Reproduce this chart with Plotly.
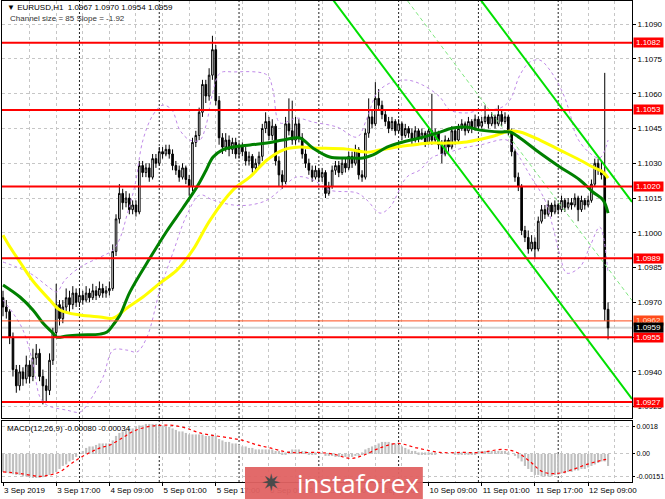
import plotly.graph_objects as go

# ---------------- data ----------------
bar_open = [1.0972,1.0968,1.0966,1.0955,1.0941,1.0934,1.0940,1.0937,1.0943,1.0938,
1.0946,1.0948,1.0938,1.0934,1.0932,1.0945,1.0957,1.0969,1.0963,1.0968,
1.0972,1.0969,1.0974,1.0970,1.0973,1.0971,1.0974,1.0972,1.0975,1.0973,
1.0976,1.0974,1.0975,1.0976,1.0992,1.1006,1.1017,1.1013,1.1015,1.1010,
1.1012,1.1009,1.1029,1.1026,1.1028,1.1024,1.1032,1.1030,1.1035,1.1034,
1.1036,1.1034,1.1029,1.1027,1.1024,1.1028,1.1023,1.1020,1.1039,1.1042,
1.1052,1.1064,1.1059,1.1068,1.1079,1.1057,1.1041,1.1037,1.1040,1.1036,
1.1039,1.1034,1.1037,1.1035,1.1031,1.1033,1.1028,1.1030,1.1033,1.1045,
1.1048,1.1042,1.1046,1.1031,1.1025,1.1022,1.1047,1.1044,1.1040,1.1047,
1.1041,1.1034,1.1030,1.1027,1.1024,1.1027,1.1024,1.1026,1.1017,1.1020,
1.1027,1.1029,1.1026,1.1030,1.1028,1.1033,1.1030,1.1036,1.1025,1.1024,
1.1043,1.1050,1.1047,1.1058,1.1055,1.1051,1.1048,1.1045,1.1048,1.1044,
1.1047,1.1042,1.1045,1.1043,1.1040,1.1044,1.1041,1.1043,1.1039,1.1044,
1.1040,1.1043,1.1038,1.1034,1.1040,1.1037,1.1044,1.1040,1.1045,1.1047,
1.1044,1.1048,1.1045,1.1049,1.1046,1.1048,1.1050,1.1047,1.1050,1.1047,
1.1051,1.1048,1.1050,1.1044,1.1035,1.1024,1.1020,1.1001,1.0998,1.0993,
1.0996,1.0993,1.1005,1.1010,1.1008,1.1012,1.1009,1.1012,1.1010,1.1014,
1.1011,1.1013,1.1012,1.1015,1.1010,1.1014,1.1012,1.1014,1.1021,1.1030,
1.1027,1.1025,1.0967]
bar_high = [1.0975,1.0971,1.0967,1.0957,1.0943,1.0943,1.0942,1.0947,1.0945,1.0950,
1.0952,1.0950,1.0941,1.0937,1.0948,1.0959,1.0978,1.0971,1.0971,1.0976,
1.0975,1.0977,1.0976,1.0976,1.0975,1.0977,1.0976,1.0978,1.0977,1.0979,
1.0978,1.0977,1.0979,1.0995,1.1008,1.1021,1.1019,1.1018,1.1017,1.1014,
1.1014,1.1031,1.1031,1.1030,1.1030,1.1034,1.1034,1.1037,1.1037,1.1038,
1.1038,1.1036,1.1031,1.1029,1.1030,1.1029,1.1025,1.1041,1.1044,1.1054,
1.1066,1.1066,1.1071,1.1085,1.1081,1.1059,1.1043,1.1043,1.1042,1.1041,
1.1041,1.1039,1.1039,1.1037,1.1035,1.1034,1.1032,1.1035,1.1047,1.1052,
1.1050,1.1049,1.1047,1.1033,1.1027,1.1050,1.1058,1.1057,1.1050,1.1049,
1.1043,1.1036,1.1032,1.1029,1.1029,1.1028,1.1028,1.1027,1.1022,1.1029,
1.1031,1.1031,1.1032,1.1032,1.1035,1.1035,1.1038,1.1037,1.1027,1.1045,
1.1058,1.1053,1.1065,1.1062,1.1057,1.1053,1.1050,1.1050,1.1049,1.1049,
1.1048,1.1047,1.1046,1.1045,1.1046,1.1045,1.1045,1.1044,1.1046,1.1060,
1.1045,1.1044,1.1040,1.1042,1.1041,1.1046,1.1045,1.1047,1.1049,1.1048,
1.1050,1.1049,1.1051,1.1050,1.1050,1.1055,1.1051,1.1052,1.1051,1.1055,
1.1053,1.1052,1.1051,1.1045,1.1036,1.1026,1.1021,1.1003,1.1001,1.0999,
1.0998,1.1007,1.1012,1.1012,1.1014,1.1013,1.1014,1.1013,1.1016,1.1015,
1.1015,1.1015,1.1017,1.1016,1.1016,1.1015,1.1016,1.1023,1.1032,1.1032,
1.1031,1.1069,1.0970]
bar_low = [1.0964,1.0963,1.0952,1.0938,1.0931,1.0932,1.0934,1.0935,1.0935,1.0936,
1.0943,1.0936,1.0926,1.0927,1.0930,1.0943,1.0955,1.0960,1.0961,1.0966,
1.0966,1.0967,1.0968,1.0968,1.0969,1.0970,1.0970,1.0971,1.0971,1.0972,
1.0972,1.0972,1.0973,1.0975,1.0990,1.1004,1.1010,1.1011,1.1008,1.1008,
1.1007,1.1008,1.1024,1.1024,1.1022,1.1023,1.1028,1.1029,1.1032,1.1033,
1.1032,1.1027,1.1025,1.1022,1.1023,1.1021,1.1016,1.1018,1.1037,1.1040,
1.1050,1.1056,1.1057,1.1066,1.1055,1.1038,1.1034,1.1035,1.1033,1.1034,
1.1032,1.1032,1.1033,1.1029,1.1029,1.1026,1.1026,1.1028,1.1031,1.1043,
1.1040,1.1040,1.1029,1.1020,1.1019,1.1021,1.1042,1.1038,1.1038,1.1039,
1.1032,1.1028,1.1025,1.1022,1.1023,1.1022,1.1022,1.1015,1.1016,1.1019,
1.1025,1.1024,1.1025,1.1026,1.1027,1.1028,1.1029,1.1023,1.1022,1.1023,
1.1041,1.1045,1.1046,1.1053,1.1049,1.1046,1.1043,1.1044,1.1042,1.1043,
1.1040,1.1041,1.1041,1.1038,1.1039,1.1039,1.1040,1.1037,1.1038,1.1038,
1.1039,1.1036,1.1030,1.1033,1.1035,1.1036,1.1038,1.1039,1.1044,1.1042,
1.1043,1.1043,1.1044,1.1044,1.1045,1.1047,1.1045,1.1046,1.1045,1.1046,
1.1046,1.1047,1.1042,1.1033,1.1022,1.1018,1.0999,1.0996,1.0991,1.0992,
1.0989,1.0992,1.1004,1.1006,1.1007,1.1007,1.1008,1.1008,1.1009,1.1009,
1.1010,1.1010,1.1011,1.1005,1.1009,1.1010,1.1011,1.1013,1.1020,1.1025,
1.1023,1.0962,1.0954]
bar_close = [1.0968,1.0966,1.0955,1.0941,1.0934,1.0940,1.0937,1.0943,1.0938,1.0946,
1.0948,1.0938,1.0934,1.0932,1.0945,1.0957,1.0969,1.0963,1.0968,1.0972,
1.0969,1.0974,1.0970,1.0973,1.0971,1.0974,1.0972,1.0975,1.0973,1.0976,
1.0974,1.0975,1.0976,1.0992,1.1006,1.1017,1.1013,1.1015,1.1010,1.1012,
1.1009,1.1029,1.1026,1.1028,1.1024,1.1032,1.1030,1.1035,1.1034,1.1036,
1.1034,1.1029,1.1027,1.1024,1.1028,1.1023,1.1020,1.1039,1.1042,1.1052,
1.1064,1.1059,1.1068,1.1079,1.1057,1.1041,1.1037,1.1040,1.1036,1.1039,
1.1034,1.1037,1.1035,1.1031,1.1033,1.1028,1.1030,1.1033,1.1045,1.1048,
1.1042,1.1046,1.1031,1.1025,1.1022,1.1047,1.1044,1.1040,1.1047,1.1041,
1.1034,1.1030,1.1027,1.1024,1.1027,1.1024,1.1026,1.1017,1.1020,1.1027,
1.1029,1.1026,1.1030,1.1028,1.1033,1.1030,1.1036,1.1025,1.1024,1.1043,
1.1050,1.1047,1.1058,1.1055,1.1051,1.1048,1.1045,1.1048,1.1044,1.1047,
1.1042,1.1045,1.1043,1.1040,1.1044,1.1041,1.1043,1.1039,1.1044,1.1040,
1.1043,1.1038,1.1034,1.1040,1.1037,1.1044,1.1040,1.1045,1.1047,1.1044,
1.1048,1.1045,1.1049,1.1046,1.1048,1.1050,1.1047,1.1050,1.1047,1.1051,
1.1048,1.1050,1.1044,1.1035,1.1024,1.1020,1.1001,1.0998,1.0993,1.0996,
1.0993,1.1005,1.1010,1.1008,1.1012,1.1009,1.1012,1.1010,1.1014,1.1011,
1.1013,1.1012,1.1015,1.1010,1.1014,1.1012,1.1014,1.1021,1.1030,1.1027,
1.1025,1.0967,1.0959]
bars = list(range(len(bar_close)))

# MACD(12,26,9): main line as histogram, one value per bar
macd_main = [-0.00120,-0.00125,-0.00130,-0.00135,-0.00140,-0.00140,-0.00150,-0.00150,-0.00155,-0.00160,
-0.00160,-0.00160,-0.00155,-0.00150,-0.00140,-0.00130,-0.00120,-0.00100,-0.00080,-0.00070,
-0.00050,-0.00040,-0.00020,0.00000,0.00020,0.00040,0.00050,0.00050,0.00060,0.00070,
0.00070,0.00070,0.00070,0.00090,0.00120,0.00140,0.00150,0.00160,0.00170,0.00170,
0.00180,0.00190,0.00190,0.00200,0.00200,0.00200,0.00200,0.00190,0.00190,0.00180,
0.00180,0.00170,0.00160,0.00150,0.00150,0.00140,0.00130,0.00130,0.00130,0.00130,
0.00130,0.00120,0.00120,0.00130,0.00120,0.00100,0.00090,0.00080,0.00080,0.00070,
0.00070,0.00060,0.00050,0.00050,0.00040,0.00040,0.00030,0.00030,0.00030,0.00030,
0.00030,0.00030,0.00020,0.00020,0.00010,0.00010,0.00020,0.00030,0.00030,0.00030,
0.00020,0.00020,0.00010,0.00010,0.00010,0.00000,0.00000,-0.00010,-0.00010,-0.00010,
-0.00020,-0.00020,-0.00020,-0.00020,-0.00020,-0.00020,-0.00010,-0.00010,0.00010,0.00030,
0.00040,0.00050,0.00060,0.00070,0.00080,0.00080,0.00080,0.00070,0.00070,0.00060,
0.00050,0.00040,0.00030,0.00020,0.00020,0.00010,0.00010,0.00010,0.00010,0.00010,
0.00010,0.00000,0.00000,0.00000,0.00000,0.00000,0.00010,0.00010,0.00010,0.00010,
0.00010,0.00010,0.00010,0.00020,0.00020,0.00020,0.00020,0.00020,0.00020,0.00020,
0.00020,0.00020,0.00010,0.00000,-0.00010,-0.00030,-0.00050,-0.00080,-0.00100,-0.00120,
-0.00140,-0.00140,-0.00150,-0.00150,-0.00150,-0.00150,-0.00140,-0.00140,-0.00130,-0.00130,
-0.00120,-0.00120,-0.00110,-0.00110,-0.00100,-0.00100,-0.00090,-0.00080,-0.00070,-0.00060,
-0.00050,-0.00050,-0.00080]
macd_signal_bar = [0,5.1,11.1,14.1,17.1,20.2,22.9,26.2,29.2,32.2,36.1,39.1,43.3,47.2,51.1,55.3,59.2,
                   72.2,76.4,80.3,86.3,94.4,99.2,104.4,108.3,113.4,118.5,124.5,131.4,138.3,143.5,
                   150.4,154.6,158.5,162.4,166.6,170.5,175.6,180.5,182]
macd_signal_val = [-0.0012,-0.0013,-0.0015,-0.0014,-0.0012,-0.0007,-0.0003,0.0001,0.0004,0.0006,0.0011,
                   0.0015,0.0018,0.0019,0.0019,0.0017,0.0014,0.0009,0.0006,0.0004,0.0001,0.0001,0.0,
                   -0.0003,-0.0001,0.0004,0.0007,0.0004,0.0001,0.0001,0.0001,0.0003,0.0001,-0.0005,
                   -0.0012,-0.0013,-0.0011,-0.0007,-0.0004,-0.00034]

# moving averages
ma_green_bar = [0,5.1,9.0,12.0,15.0,16.2,19.2,23.2,29.2,31.3,33.1,35.2,38.2,44.2,49.3,54.1,58.3,60.8,
                63.2,65.9,69.2,74.3,79.4,84.2,89.3,93.2,98.3,103.5,108.3,111.3,115.5,120.3,125.4,
                130.5,135.3,139.5,143.5,149.5,152.5,155.5,161.5,167.5,173.5,177.4,180.5,182]
ma_green_val = [1.09775,1.09723,1.09667,1.09611,1.09568,1.09550,1.09555,1.09559,1.09563,1.09572,
                1.09602,1.09645,1.09745,1.09891,1.10008,1.10107,1.10197,1.10262,1.10327,1.10357,
                1.10370,1.10379,1.10387,1.10400,1.10409,1.10366,1.10327,1.10323,1.10323,1.10336,
                1.10370,1.10392,1.10409,1.10430,1.10452,1.10456,1.10443,1.10435,1.10435,1.10409,
                1.10344,1.10284,1.10228,1.10176,1.10141,1.10085]
ma_yellow_bar = [0,2.1,5.1,9.0,14.1,17.1,23.2,29.2,33.1,37.3,42.1,47.2,52.3,57.1,62.3,69.2,74.3,79.4,
                 84.2,89.3,93.2,103.5,109.5,113.4,118.5,123.3,128.4,133.5,139.5,146.5,148.6,152.5,
                 155.5,161.5,167.5,173.5,177.4,180.5,182]
ma_yellow_val = [1.09990,1.09939,1.09874,1.09792,1.09710,1.09667,1.09645,1.09637,1.09632,1.09676,
                 1.09723,1.09783,1.09839,1.09926,1.10055,1.10185,1.10241,1.10314,1.10357,1.10370,
                 1.10366,1.10361,1.10348,1.10357,1.10370,1.10379,1.10387,1.10387,1.10392,1.10413,
                 1.10422,1.10439,1.10435,1.10400,1.10357,1.10314,1.10284,1.10262,1.10236]

# Bollinger bands
bb_upper_bar = [0,4.2,9.0,14.1,16.2,18.6,23.2,29.2,33.1,35.2,37.3,39.7,42.1,45.1,48.1,50.8,53.2,56.2,
                59.2,61.1,62.9,65.3,69.2,79.4,81.2,83.3,88.4,93.2,100.5,106.5,109.5,112.5,116.4,
                121.5,126.3,131.4,134.4,139.5,143.5,149.5,152.5,155.5,158.5,161.5,164.5,168.4,
                170.5,172.6,176.5,179.5,182]
bb_upper_val = [1.09874,1.09852,1.09818,1.09762,1.09745,1.09796,1.09852,1.09895,1.09926,1.09977,
                1.10077,1.10206,1.10400,1.10508,1.10551,1.10530,1.10443,1.10400,1.10400,1.10465,
                1.10594,1.10689,1.10694,1.10681,1.10616,1.10474,1.10495,1.10478,1.10456,1.10413,
                1.10495,1.10603,1.10646,1.10659,1.10637,1.10586,1.10530,1.10517,1.10530,1.10538,
                1.10573,1.10681,1.10737,1.10745,1.10702,1.10603,1.10517,1.10413,1.10344,1.10323,
                1.10400]
bb_lower_bar = [0,3.0,6.0,9.0,11.1,13.2,19.2,23.2,26.2,30.1,33.1,37.3,40.3,43.3,47.2,51.1,55.3,59.2,
                63.2,69.2,74.3,79.4,83.3,88.4,93.2,98.3,106.5,109.5,113.4,116.4,121.5,125.4,129.3,
                133.5,138.3,143.5,151.6,154.0,158.5,163.0,165.4,167.5,169.6,173.5,176.5,179.5,182]
bb_lower_val = [1.09710,1.09654,1.09581,1.09438,1.09292,1.09257,1.09235,1.09227,1.09278,1.09378,
                1.09494,1.09494,1.09486,1.09550,1.09753,1.09913,1.10077,1.10163,1.10141,1.10120,
                1.10120,1.10141,1.10184,1.10241,1.10228,1.10184,1.10172,1.10141,1.10085,1.10111,
                1.10241,1.10271,1.10327,1.10344,1.10366,1.10379,1.10400,1.10357,1.10249,1.10141,
                1.10025,1.09904,1.09826,1.09852,1.09939,1.10025,1.09826]

# regression channel: lower line end points, channel size 85 pips
channel_bars = [99, 189.2]
channel_lower = [1.1101, 1.09283]
channel_size = 0.0085

# horizontal levels
level_prices = [1.1082, 1.1053, 1.1020, 1.0989, 1.0955, 1.0927]
ask_price = 1.0962
bid_price = 1.0959

price_ticks = [1.0925, 1.0940, 1.0955, 1.0970, 1.0985, 1.1000, 1.1015, 1.1030, 1.1045, 1.1060, 1.1075, 1.1090]
macd_ticks = [0.0018, 0.0, -0.00151]
macd_tick_text = ["0.0018", "0.00", "-0.00151"]

time_tick_bars = [0, 16, 32, 48, 64, 80, 96, 112, 128, 144, 160, 176]
time_tick_labels = ["3 Sep 2019", "3 Sep 17:00", "4 Sep 09:00", "5 Sep 01:00", "5 Sep 17:00",
                    "6 Sep 09:00", "9 Sep 01:00", "9 Sep 17:00", "10 Sep 09:00", "11 Sep 01:00",
                    "11 Sep 17:00", "12 Sep 09:00"]
day_start_bars = [23, 47, 71, 95, 119, 143, 167]

# ---------------- figure ----------------
FONT = "Liberation Sans, Arial, sans-serif"
GRID = "#c6c6c6"
fig = go.Figure()

fig.add_trace(go.Candlestick(
    x=bars, open=bar_open, high=bar_high, low=bar_low, close=bar_close,
    increasing=dict(line=dict(color="black", width=1), fillcolor="white"),
    decreasing=dict(line=dict(color="black", width=1), fillcolor="black"),
    whiskerwidth=0, xaxis="x", yaxis="y", showlegend=False, hoverinfo="skip"))

fig.add_trace(go.Scatter(x=bb_upper_bar, y=bb_upper_val, mode="lines", line=dict(color="#c08ae8", width=1, dash="dot", shape="spline"), xaxis="x", yaxis="y"))
fig.add_trace(go.Scatter(x=bb_lower_bar, y=bb_lower_val, mode="lines", line=dict(color="#c08ae8", width=1, dash="dot", shape="spline"), xaxis="x", yaxis="y"))

ch_upper = [v + channel_size for v in channel_lower]
ch_mid = [v + channel_size / 2 for v in channel_lower]
fig.add_trace(go.Scatter(x=channel_bars, y=channel_lower, mode="lines", line=dict(color="#00e000", width=2), xaxis="x", yaxis="y"))
fig.add_trace(go.Scatter(x=channel_bars, y=ch_upper, mode="lines", line=dict(color="#00e000", width=2), xaxis="x", yaxis="y"))
fig.add_trace(go.Scatter(x=channel_bars, y=ch_mid, mode="lines", line=dict(color="#7fe87f", width=1, dash="4px,3px"), xaxis="x", yaxis="y"))

fig.add_trace(go.Scatter(x=ma_yellow_bar, y=ma_yellow_val, mode="lines", line=dict(color="#ffff00", width=3, shape="spline"), xaxis="x", yaxis="y"))
fig.add_trace(go.Scatter(x=ma_green_bar, y=ma_green_val, mode="lines", line=dict(color="#008000", width=3, shape="spline"), xaxis="x", yaxis="y"))

fig.add_trace(go.Bar(x=bars, y=macd_main, marker=dict(color="#c0c0c0", line=dict(width=0)), xaxis="x2", yaxis="y2", hoverinfo="skip"))
fig.add_trace(go.Scatter(x=macd_signal_bar, y=macd_signal_val, mode="lines", line=dict(color="#ff0000", width=1.2, dash="dot", shape="spline"), xaxis="x2", yaxis="y2"))

shapes = []
for b in day_start_bars:
    shapes.append(dict(type="line", xref="x", yref="paper", x0=b, x1=b, y0=0, y1=1,
                       line=dict(color="#222222", width=1, dash="2px,2px"), layer="below"))
shapes.append(dict(type="line", xref="x domain", yref="y", x0=0, x1=1, y0=bid_price, y1=bid_price,
                   line=dict(color="#d4d4d4", width=2), layer="below"))
shapes.append(dict(type="line", xref="x domain", yref="y", x0=0, x1=1, y0=ask_price, y1=ask_price,
                   line=dict(color="#ff4a1a", width=1), layer="above"))
for p in level_prices:
    shapes.append(dict(type="line", xref="x domain", yref="y", x0=0, x1=1, y0=p, y1=p,
                       line=dict(color="#ff0000", width=2), layer="above"))
# watermark box
shapes.append(dict(type="rect", xref="paper", yref="paper", x0=0.3857, x1=0.668, y0=-0.04, y1=0.031,
                   fillcolor="rgba(224,98,98,0.95)", line=dict(width=0), layer="above"))

annotations = []
label_style = [(p, "#ff0000", "white") for p in level_prices] + [(ask_price, "#ff4a1a", "#ffe0d0"), (bid_price, "#000000", "white")]
for p, bg, fg in label_style:
    annotations.append(dict(xref="paper", yref="y", x=1, y=p, xanchor="left", yanchor="middle", xshift=1,
                            text=f"{p:.4f}", showarrow=False, bgcolor=bg, width=29, height=9,
                            font=dict(family=FONT, size=8, color=fg), borderpad=0))
annotations.append(dict(xref="paper", yref="paper", x=0.005, y=0.986, xanchor="left", yanchor="middle",
                        text="\u25bc EURUSD,H1  1.0967 1.0970 1.0954 1.0959", showarrow=False,
                        font=dict(family=FONT, size=8, color="black")))
annotations.append(dict(xref="paper", yref="paper", x=0.01, y=0.963, xanchor="left", yanchor="middle",
                        text="Channel size = 85 Slope = -1.92", showarrow=False,
                        font=dict(family=FONT, size=8, color="#333333")))
annotations.append(dict(xref="paper", yref="paper", x=0.005, y=0.112, xanchor="left", yanchor="middle",
                        text="MACD(12,26,9) -0.00080 -0.00034", showarrow=False,
                        font=dict(family=FONT, size=8, color="black")))
annotations.append(dict(xref="paper", yref="paper", x=0.427, y=-0.003, xanchor="center", yanchor="middle",
                        text="\u2737", showarrow=False, font=dict(family="DejaVu Sans", size=24, color="#4a4a4a")))
annotations.append(dict(xref="paper", yref="paper", x=0.565, y=-0.003, xanchor="center", yanchor="middle",
                        text="instaforex", showarrow=False, font=dict(family="Open Sans", size=26, color="white")))

axis_common = dict(showline=True, linecolor="black", linewidth=1, mirror=True, zeroline=False)
fig.update_layout(
    width=665, height=499, margin=dict(l=2, r=33, t=1, b=17),
    paper_bgcolor="white", plot_bgcolor="white", showlegend=False,
    font=dict(family=FONT, size=8, color="black"), bargap=0.35,
    xaxis=dict(domain=[0, 1], anchor="y", range=[-0.3, 189.2], tickmode="array", tickvals=time_tick_bars,
               showticklabels=False, ticks="", showgrid=True, gridcolor=GRID, griddash="3px,3px",
               minor=dict(tick0=0, dtick=8, showgrid=True, gridcolor=GRID, griddash="3px,3px"),
               rangeslider=dict(visible=False), **axis_common),
    yaxis=dict(domain=[0.133, 1], anchor="x", range=[1.09201, 1.11000], side="right", tickmode="array",
               tickvals=price_ticks, ticktext=[f"{t:.4f}" for t in price_ticks], ticks="outside", ticklen=3,
               tickcolor="black", showgrid=True, gridcolor=GRID, griddash="3px,3px", automargin=False,
               tickfont=dict(family=FONT, size=8, color="black"), **axis_common),
    xaxis2=dict(domain=[0, 1], anchor="y2", matches="x", range=[-0.3, 189.2], tickmode="array",
                tickvals=time_tick_bars, ticktext=time_tick_labels, ticks="outside", ticklen=3, tickcolor="black",
                ticklabelposition="outside right", tickangle=0, showgrid=True, gridcolor=GRID, griddash="3px,3px",
                minor=dict(tick0=0, dtick=8, showgrid=True, gridcolor=GRID, griddash="3px,3px"),
                tickfont=dict(family=FONT, size=8, color="black"), automargin=False, **axis_common),
    yaxis2=dict(domain=[0, 0.127], anchor="x2", range=[-0.00187, 0.0022], side="right", tickmode="array",
                tickvals=macd_ticks, ticktext=macd_tick_text, ticks="outside", ticklen=2, tickcolor="black",
                showgrid=True, gridcolor=GRID, griddash="3px,3px", automargin=False,
                tickfont=dict(family=FONT, size=7, color="black"), **axis_common),
    shapes=shapes, annotations=annotations,
)

fig.write_html("out.html", config={"displayModeBar": False},
               post_script="document.body.style.margin='0';document.body.style.overflow='hidden';")
